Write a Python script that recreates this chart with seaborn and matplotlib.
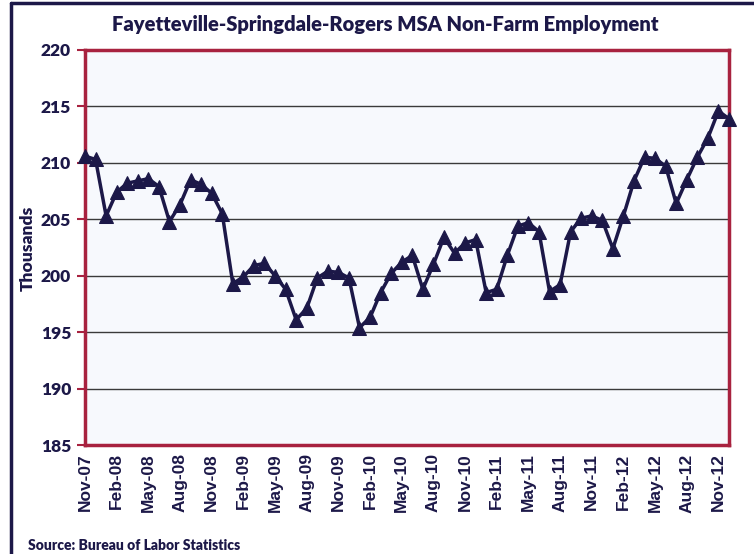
"""Fayetteville-Springdale-Rogers MSA non-farm employment line chart."""
import matplotlib

matplotlib.use("Agg")
import matplotlib.pyplot as plt
import pandas as pd
import seaborn as sns
from matplotlib.lines import Line2D

# monthly values, Nov-07 .. Dec-12 (thousands)
months = pd.date_range("2007-11-01", "2012-12-01", freq="MS")
employment = [
    210.6, 210.3,
    205.3, 207.4, 208.2, 208.4, 208.6, 207.9, 204.8, 206.3, 208.5, 208.1, 207.3, 205.5,
    199.3, 199.9, 200.9, 201.1, 200.0, 198.8, 196.1, 197.1, 199.8, 200.4, 200.3, 199.8,
    195.4, 196.3, 198.5, 200.2, 201.2, 201.8, 198.8, 201.0, 203.4, 202.0, 202.9, 203.2,
    198.5, 198.8, 201.8, 204.4, 204.7, 203.9, 198.6, 199.2, 203.9, 205.1, 205.3, 204.9,
    202.4, 205.3, 208.4, 210.5, 210.4, 209.7, 206.4, 208.5, 210.5, 212.2, 214.6, 213.9,
]
y_ticks = [185, 190, 195, 200, 205, 210, 215, 220]
title = "Fayetteville-Springdale-Rogers MSA Non-Farm Employment"
source = "Source: Bureau of Labor Statistics"

navy = "#1c1848"
crimson = "#a8223f"

df = pd.DataFrame({"idx": range(len(months)), "value": employment})
tick_idx = list(range(0, len(months), 3))
tick_labels = [months[i].strftime("%b-%y") for i in tick_idx]

sns.set_style("white")
plt.rcParams["font.family"] = ["Lato", "DejaVu Sans"]

fig = plt.figure(figsize=(7.54, 5.54), dpi=100)
ax = fig.add_axes([85 / 754, 1 - 445 / 554, 644 / 754, 395 / 554])
ax.set_facecolor("#f7f9fd")

sns.lineplot(
    data=df,
    x="idx",
    y="value",
    ax=ax,
    color=navy,
    linewidth=2.5,
    marker="^",
    markersize=10,
    markeredgecolor=navy,
    markerfacecolor=navy,
    clip_on=False,
    zorder=5,
)

ax.set_xlim(0, len(months) - 1)
ax.set_ylim(185, 220)
ax.set_yticks(y_ticks)
ax.set_yticklabels([str(t) for t in y_ticks], fontsize=12.5, fontweight="heavy", color=navy)
ax.set_xticks(tick_idx)
ax.set_xticklabels(
    tick_labels, rotation=90, fontsize=12.5, fontweight="bold", color=navy,
    family=["Liberation Sans", "DejaVu Sans"],
)
ax.tick_params(axis="y", length=6, width=1.5, color=crimson, pad=4, left=True)
ax.tick_params(axis="x", length=0, pad=6)
ax.grid(axis="y", color="#3a3a3a", linewidth=1)
ax.set_axisbelow(True)
for s in ax.spines.values():
    s.set_color(crimson)
    s.set_linewidth(2.5)

ax.set_xlabel("")
ax.set_ylabel("")
fig.text(28 / 754, 1 - 248 / 554, "Thousands", rotation=90, ha="center", va="center",
         fontsize=12.5, fontweight="heavy", color=navy)
fig.text(385 / 754, 1 - 25 / 554, title, ha="center", va="center",
         fontsize=14.5, fontweight="heavy", color=navy)
fig.text(28 / 754, 1 - 546 / 554, source, ha="left", va="center",
         fontsize=10, fontweight="heavy", color=navy)

# outer frame (left, top, right)
fig.add_artist(Line2D([11 / 754, 11 / 754], [0, 1 - 3 / 554], color=navy, linewidth=2.5))
fig.add_artist(Line2D([11 / 754, 1], [1 - 3 / 554, 1 - 3 / 554], color=navy, linewidth=2.5))

fig.savefig("out.png", dpi=100)
